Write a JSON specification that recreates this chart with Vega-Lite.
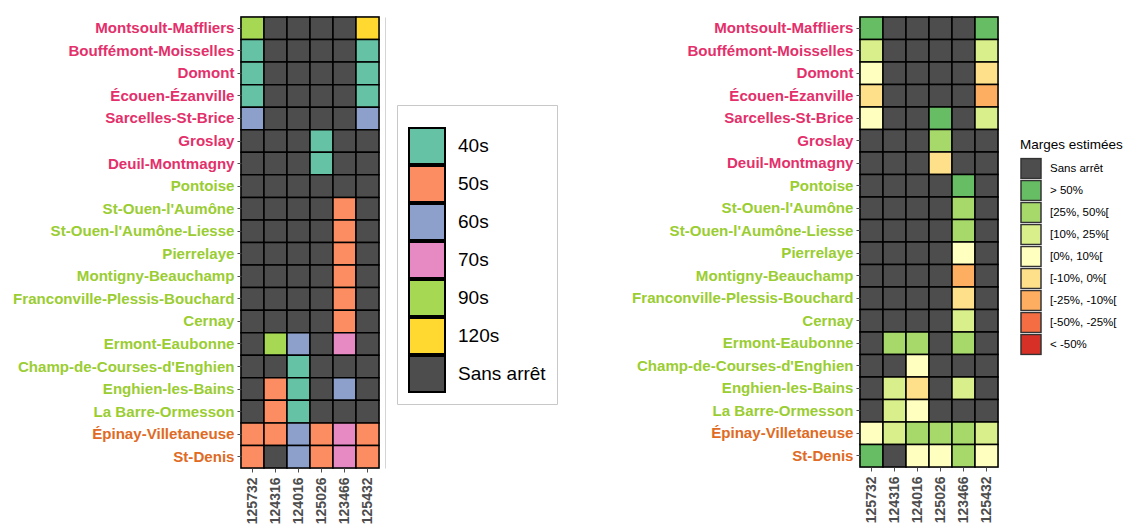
{
  "$schema": "https://vega.github.io/schema/vega-lite/v6.json",
  "padding": {"left": 11, "top": 15, "right": 0, "bottom": 0},
  "background": "white",
  "config": {
    "font": "Liberation Sans",
    "view": {"stroke": "#a0a0a0", "strokeWidth": 1.5},
    "axis": {"grid": false, "domain": false, "tickColor": "#4D4D4D", "tickSize": 4, "labelFontWeight": "bold", "labelLimit": 400}
  },
  "data": {"values": [
    {"station": "Montsoult-Maffliers", "train": "125732", "arret": "90s", "marge": "> 50%"},
    {"station": "Montsoult-Maffliers", "train": "124316", "arret": "Sans arrêt", "marge": "Sans arrêt"},
    {"station": "Montsoult-Maffliers", "train": "124016", "arret": "Sans arrêt", "marge": "Sans arrêt"},
    {"station": "Montsoult-Maffliers", "train": "125026", "arret": "Sans arrêt", "marge": "Sans arrêt"},
    {"station": "Montsoult-Maffliers", "train": "123466", "arret": "Sans arrêt", "marge": "Sans arrêt"},
    {"station": "Montsoult-Maffliers", "train": "125432", "arret": "120s", "marge": "> 50%"},
    {"station": "Bouffémont-Moisselles", "train": "125732", "arret": "40s", "marge": "[10%, 25%["},
    {"station": "Bouffémont-Moisselles", "train": "124316", "arret": "Sans arrêt", "marge": "Sans arrêt"},
    {"station": "Bouffémont-Moisselles", "train": "124016", "arret": "Sans arrêt", "marge": "Sans arrêt"},
    {"station": "Bouffémont-Moisselles", "train": "125026", "arret": "Sans arrêt", "marge": "Sans arrêt"},
    {"station": "Bouffémont-Moisselles", "train": "123466", "arret": "Sans arrêt", "marge": "Sans arrêt"},
    {"station": "Bouffémont-Moisselles", "train": "125432", "arret": "40s", "marge": "[10%, 25%["},
    {"station": "Domont", "train": "125732", "arret": "40s", "marge": "[0%, 10%["},
    {"station": "Domont", "train": "124316", "arret": "Sans arrêt", "marge": "Sans arrêt"},
    {"station": "Domont", "train": "124016", "arret": "Sans arrêt", "marge": "Sans arrêt"},
    {"station": "Domont", "train": "125026", "arret": "Sans arrêt", "marge": "Sans arrêt"},
    {"station": "Domont", "train": "123466", "arret": "Sans arrêt", "marge": "Sans arrêt"},
    {"station": "Domont", "train": "125432", "arret": "40s", "marge": "[-10%, 0%["},
    {"station": "Écouen-Ézanville", "train": "125732", "arret": "40s", "marge": "[-10%, 0%["},
    {"station": "Écouen-Ézanville", "train": "124316", "arret": "Sans arrêt", "marge": "Sans arrêt"},
    {"station": "Écouen-Ézanville", "train": "124016", "arret": "Sans arrêt", "marge": "Sans arrêt"},
    {"station": "Écouen-Ézanville", "train": "125026", "arret": "Sans arrêt", "marge": "Sans arrêt"},
    {"station": "Écouen-Ézanville", "train": "123466", "arret": "Sans arrêt", "marge": "Sans arrêt"},
    {"station": "Écouen-Ézanville", "train": "125432", "arret": "40s", "marge": "[-25%, -10%["},
    {"station": "Sarcelles-St-Brice", "train": "125732", "arret": "60s", "marge": "[0%, 10%["},
    {"station": "Sarcelles-St-Brice", "train": "124316", "arret": "Sans arrêt", "marge": "Sans arrêt"},
    {"station": "Sarcelles-St-Brice", "train": "124016", "arret": "Sans arrêt", "marge": "Sans arrêt"},
    {"station": "Sarcelles-St-Brice", "train": "125026", "arret": "Sans arrêt", "marge": "> 50%"},
    {"station": "Sarcelles-St-Brice", "train": "123466", "arret": "Sans arrêt", "marge": "Sans arrêt"},
    {"station": "Sarcelles-St-Brice", "train": "125432", "arret": "60s", "marge": "[10%, 25%["},
    {"station": "Groslay", "train": "125732", "arret": "Sans arrêt", "marge": "Sans arrêt"},
    {"station": "Groslay", "train": "124316", "arret": "Sans arrêt", "marge": "Sans arrêt"},
    {"station": "Groslay", "train": "124016", "arret": "Sans arrêt", "marge": "Sans arrêt"},
    {"station": "Groslay", "train": "125026", "arret": "40s", "marge": "[25%, 50%["},
    {"station": "Groslay", "train": "123466", "arret": "Sans arrêt", "marge": "Sans arrêt"},
    {"station": "Groslay", "train": "125432", "arret": "Sans arrêt", "marge": "Sans arrêt"},
    {"station": "Deuil-Montmagny", "train": "125732", "arret": "Sans arrêt", "marge": "Sans arrêt"},
    {"station": "Deuil-Montmagny", "train": "124316", "arret": "Sans arrêt", "marge": "Sans arrêt"},
    {"station": "Deuil-Montmagny", "train": "124016", "arret": "Sans arrêt", "marge": "Sans arrêt"},
    {"station": "Deuil-Montmagny", "train": "125026", "arret": "40s", "marge": "[-10%, 0%["},
    {"station": "Deuil-Montmagny", "train": "123466", "arret": "Sans arrêt", "marge": "Sans arrêt"},
    {"station": "Deuil-Montmagny", "train": "125432", "arret": "Sans arrêt", "marge": "Sans arrêt"},
    {"station": "Pontoise", "train": "125732", "arret": "Sans arrêt", "marge": "Sans arrêt"},
    {"station": "Pontoise", "train": "124316", "arret": "Sans arrêt", "marge": "Sans arrêt"},
    {"station": "Pontoise", "train": "124016", "arret": "Sans arrêt", "marge": "Sans arrêt"},
    {"station": "Pontoise", "train": "125026", "arret": "Sans arrêt", "marge": "Sans arrêt"},
    {"station": "Pontoise", "train": "123466", "arret": "Sans arrêt", "marge": "> 50%"},
    {"station": "Pontoise", "train": "125432", "arret": "Sans arrêt", "marge": "Sans arrêt"},
    {"station": "St-Ouen-l'Aumône", "train": "125732", "arret": "Sans arrêt", "marge": "Sans arrêt"},
    {"station": "St-Ouen-l'Aumône", "train": "124316", "arret": "Sans arrêt", "marge": "Sans arrêt"},
    {"station": "St-Ouen-l'Aumône", "train": "124016", "arret": "Sans arrêt", "marge": "Sans arrêt"},
    {"station": "St-Ouen-l'Aumône", "train": "125026", "arret": "Sans arrêt", "marge": "Sans arrêt"},
    {"station": "St-Ouen-l'Aumône", "train": "123466", "arret": "50s", "marge": "[25%, 50%["},
    {"station": "St-Ouen-l'Aumône", "train": "125432", "arret": "Sans arrêt", "marge": "Sans arrêt"},
    {"station": "St-Ouen-l'Aumône-Liesse", "train": "125732", "arret": "Sans arrêt", "marge": "Sans arrêt"},
    {"station": "St-Ouen-l'Aumône-Liesse", "train": "124316", "arret": "Sans arrêt", "marge": "Sans arrêt"},
    {"station": "St-Ouen-l'Aumône-Liesse", "train": "124016", "arret": "Sans arrêt", "marge": "Sans arrêt"},
    {"station": "St-Ouen-l'Aumône-Liesse", "train": "125026", "arret": "Sans arrêt", "marge": "Sans arrêt"},
    {"station": "St-Ouen-l'Aumône-Liesse", "train": "123466", "arret": "50s", "marge": "[25%, 50%["},
    {"station": "St-Ouen-l'Aumône-Liesse", "train": "125432", "arret": "Sans arrêt", "marge": "Sans arrêt"},
    {"station": "Pierrelaye", "train": "125732", "arret": "Sans arrêt", "marge": "Sans arrêt"},
    {"station": "Pierrelaye", "train": "124316", "arret": "Sans arrêt", "marge": "Sans arrêt"},
    {"station": "Pierrelaye", "train": "124016", "arret": "Sans arrêt", "marge": "Sans arrêt"},
    {"station": "Pierrelaye", "train": "125026", "arret": "Sans arrêt", "marge": "Sans arrêt"},
    {"station": "Pierrelaye", "train": "123466", "arret": "50s", "marge": "[0%, 10%["},
    {"station": "Pierrelaye", "train": "125432", "arret": "Sans arrêt", "marge": "Sans arrêt"},
    {"station": "Montigny-Beauchamp", "train": "125732", "arret": "Sans arrêt", "marge": "Sans arrêt"},
    {"station": "Montigny-Beauchamp", "train": "124316", "arret": "Sans arrêt", "marge": "Sans arrêt"},
    {"station": "Montigny-Beauchamp", "train": "124016", "arret": "Sans arrêt", "marge": "Sans arrêt"},
    {"station": "Montigny-Beauchamp", "train": "125026", "arret": "Sans arrêt", "marge": "Sans arrêt"},
    {"station": "Montigny-Beauchamp", "train": "123466", "arret": "50s", "marge": "[-25%, -10%["},
    {"station": "Montigny-Beauchamp", "train": "125432", "arret": "Sans arrêt", "marge": "Sans arrêt"},
    {"station": "Franconville-Plessis-Bouchard", "train": "125732", "arret": "Sans arrêt", "marge": "Sans arrêt"},
    {"station": "Franconville-Plessis-Bouchard", "train": "124316", "arret": "Sans arrêt", "marge": "Sans arrêt"},
    {"station": "Franconville-Plessis-Bouchard", "train": "124016", "arret": "Sans arrêt", "marge": "Sans arrêt"},
    {"station": "Franconville-Plessis-Bouchard", "train": "125026", "arret": "Sans arrêt", "marge": "Sans arrêt"},
    {"station": "Franconville-Plessis-Bouchard", "train": "123466", "arret": "50s", "marge": "[-10%, 0%["},
    {"station": "Franconville-Plessis-Bouchard", "train": "125432", "arret": "Sans arrêt", "marge": "Sans arrêt"},
    {"station": "Cernay", "train": "125732", "arret": "Sans arrêt", "marge": "Sans arrêt"},
    {"station": "Cernay", "train": "124316", "arret": "Sans arrêt", "marge": "Sans arrêt"},
    {"station": "Cernay", "train": "124016", "arret": "Sans arrêt", "marge": "Sans arrêt"},
    {"station": "Cernay", "train": "125026", "arret": "Sans arrêt", "marge": "Sans arrêt"},
    {"station": "Cernay", "train": "123466", "arret": "50s", "marge": "[10%, 25%["},
    {"station": "Cernay", "train": "125432", "arret": "Sans arrêt", "marge": "Sans arrêt"},
    {"station": "Ermont-Eaubonne", "train": "125732", "arret": "Sans arrêt", "marge": "Sans arrêt"},
    {"station": "Ermont-Eaubonne", "train": "124316", "arret": "90s", "marge": "[25%, 50%["},
    {"station": "Ermont-Eaubonne", "train": "124016", "arret": "60s", "marge": "[25%, 50%["},
    {"station": "Ermont-Eaubonne", "train": "125026", "arret": "Sans arrêt", "marge": "Sans arrêt"},
    {"station": "Ermont-Eaubonne", "train": "123466", "arret": "70s", "marge": "[25%, 50%["},
    {"station": "Ermont-Eaubonne", "train": "125432", "arret": "Sans arrêt", "marge": "Sans arrêt"},
    {"station": "Champ-de-Courses-d'Enghien", "train": "125732", "arret": "Sans arrêt", "marge": "Sans arrêt"},
    {"station": "Champ-de-Courses-d'Enghien", "train": "124316", "arret": "Sans arrêt", "marge": "Sans arrêt"},
    {"station": "Champ-de-Courses-d'Enghien", "train": "124016", "arret": "40s", "marge": "[0%, 10%["},
    {"station": "Champ-de-Courses-d'Enghien", "train": "125026", "arret": "Sans arrêt", "marge": "Sans arrêt"},
    {"station": "Champ-de-Courses-d'Enghien", "train": "123466", "arret": "Sans arrêt", "marge": "Sans arrêt"},
    {"station": "Champ-de-Courses-d'Enghien", "train": "125432", "arret": "Sans arrêt", "marge": "Sans arrêt"},
    {"station": "Enghien-les-Bains", "train": "125732", "arret": "Sans arrêt", "marge": "Sans arrêt"},
    {"station": "Enghien-les-Bains", "train": "124316", "arret": "50s", "marge": "[10%, 25%["},
    {"station": "Enghien-les-Bains", "train": "124016", "arret": "40s", "marge": "[-10%, 0%["},
    {"station": "Enghien-les-Bains", "train": "125026", "arret": "Sans arrêt", "marge": "Sans arrêt"},
    {"station": "Enghien-les-Bains", "train": "123466", "arret": "60s", "marge": "[10%, 25%["},
    {"station": "Enghien-les-Bains", "train": "125432", "arret": "Sans arrêt", "marge": "Sans arrêt"},
    {"station": "La Barre-Ormesson", "train": "125732", "arret": "Sans arrêt", "marge": "Sans arrêt"},
    {"station": "La Barre-Ormesson", "train": "124316", "arret": "50s", "marge": "[10%, 25%["},
    {"station": "La Barre-Ormesson", "train": "124016", "arret": "40s", "marge": "[0%, 10%["},
    {"station": "La Barre-Ormesson", "train": "125026", "arret": "Sans arrêt", "marge": "Sans arrêt"},
    {"station": "La Barre-Ormesson", "train": "123466", "arret": "Sans arrêt", "marge": "Sans arrêt"},
    {"station": "La Barre-Ormesson", "train": "125432", "arret": "Sans arrêt", "marge": "Sans arrêt"},
    {"station": "Épinay-Villetaneuse", "train": "125732", "arret": "50s", "marge": "[0%, 10%["},
    {"station": "Épinay-Villetaneuse", "train": "124316", "arret": "50s", "marge": "[10%, 25%["},
    {"station": "Épinay-Villetaneuse", "train": "124016", "arret": "60s", "marge": "[25%, 50%["},
    {"station": "Épinay-Villetaneuse", "train": "125026", "arret": "50s", "marge": "[25%, 50%["},
    {"station": "Épinay-Villetaneuse", "train": "123466", "arret": "70s", "marge": "[25%, 50%["},
    {"station": "Épinay-Villetaneuse", "train": "125432", "arret": "50s", "marge": "[10%, 25%["},
    {"station": "St-Denis", "train": "125732", "arret": "50s", "marge": "> 50%"},
    {"station": "St-Denis", "train": "124316", "arret": "Sans arrêt", "marge": "Sans arrêt"},
    {"station": "St-Denis", "train": "124016", "arret": "60s", "marge": "[0%, 10%["},
    {"station": "St-Denis", "train": "125026", "arret": "50s", "marge": "[0%, 10%["},
    {"station": "St-Denis", "train": "123466", "arret": "70s", "marge": "[25%, 50%["},
    {"station": "St-Denis", "train": "125432", "arret": "50s", "marge": "[0%, 10%["}
  ]},
  "spacing": 71,
  "resolve": {"scale": {"color": "independent"}},
  "hconcat": [
    {
      "width": 138,
      "height": 451,
      "resolve": {"axis": {"y": "independent"}},
      "layer": [
        {
          "mark": {"type": "rect", "stroke": "black", "strokeWidth": 1.5},
          "encoding": {
            "x": {"field": "train", "type": "nominal", "title": null,
              "sort": ["125732", "124316", "124016", "125026", "123466", "125432"],
              "axis": {"labelAngle": 270, "labelFontSize": 14, "labelColor": "#4D4D4D", "labelPadding": 5}},
            "y": {"field": "station", "type": "nominal", "title": null,
              "sort": ["Montsoult-Maffliers", "Bouffémont-Moisselles", "Domont", "Écouen-Ézanville", "Sarcelles-St-Brice", "Groslay", "Deuil-Montmagny", "Pontoise", "St-Ouen-l'Aumône", "St-Ouen-l'Aumône-Liesse", "Pierrelaye", "Montigny-Beauchamp", "Franconville-Plessis-Bouchard", "Cernay", "Ermont-Eaubonne", "Champ-de-Courses-d'Enghien", "Enghien-les-Bains", "La Barre-Ormesson", "Épinay-Villetaneuse", "St-Denis"],
              "axis": {"labelFontSize": 15.1, "labelPadding": 3,
                "labelColor": {"expr": "indexof(['Montsoult-Maffliers','Bouffémont-Moisselles','Domont','Écouen-Ézanville','Sarcelles-St-Brice','Groslay','Deuil-Montmagny'], datum.value) >= 0 ? '#E3306B' : (indexof(['Épinay-Villetaneuse','St-Denis'], datum.value) >= 0 ? '#E06B24' : '#9ACD32')"}}},
            "color": {"field": "arret", "type": "nominal",
              "scale": {"domain": ["40s", "50s", "60s", "70s", "90s", "120s", "Sans arrêt"],
                "range": ["#66C2A5", "#FC8D62", "#8DA0CB", "#E78AC3", "#A6D854", "#FFD92F", "#4D4D4D"]},
              "legend": {"orient": "none", "legendX": 156, "legendY": 88, "title": " ", "titleFontSize": 10, "titlePadding": 1,
                "symbolType": "square", "symbolSize": 1296, "symbolStrokeColor": "black", "symbolStrokeWidth": 2, "symbolOpacity": 1,
                "clipHeight": 38,
                "labelFontSize": 19, "labelColor": "black", "labelOffset": 12, "rowPadding": 0, "padding": 11,
                "strokeColor": "#c8c8c8", "labelLimit": 300}}
          }
        },
        {
          "mark": {"type": "rect", "opacity": 0},
          "encoding": {
            "y": {"field": "station", "type": "nominal", "title": null,
              "sort": ["Montsoult-Maffliers", "Bouffémont-Moisselles", "Domont", "Écouen-Ézanville", "Sarcelles-St-Brice", "Groslay", "Deuil-Montmagny", "Pontoise", "St-Ouen-l'Aumône", "St-Ouen-l'Aumône-Liesse", "Pierrelaye", "Montigny-Beauchamp", "Franconville-Plessis-Bouchard", "Cernay", "Ermont-Eaubonne", "Champ-de-Courses-d'Enghien", "Enghien-les-Bains", "La Barre-Ormesson", "Épinay-Villetaneuse", "St-Denis"],
              "axis": {"orient": "right", "labels": false, "ticks": false, "domain": true, "domainColor": "#d4d4d4", "domainWidth": 1, "offset": 6}}
          }
        }
      ]
    },
    {
      "width": 138,
      "height": 450,
      "mark": {"type": "rect", "stroke": "black", "strokeWidth": 1.5},
      "encoding": {
        "x": {"field": "train", "type": "nominal", "title": null,
          "sort": ["125732", "124316", "124016", "125026", "123466", "125432"],
          "axis": {"labelAngle": 270, "labelFontSize": 14, "labelColor": "#4D4D4D", "labelPadding": 5}},
        "y": {"field": "station", "type": "nominal", "title": null,
          "sort": ["Montsoult-Maffliers", "Bouffémont-Moisselles", "Domont", "Écouen-Ézanville", "Sarcelles-St-Brice", "Groslay", "Deuil-Montmagny", "Pontoise", "St-Ouen-l'Aumône", "St-Ouen-l'Aumône-Liesse", "Pierrelaye", "Montigny-Beauchamp", "Franconville-Plessis-Bouchard", "Cernay", "Ermont-Eaubonne", "Champ-de-Courses-d'Enghien", "Enghien-les-Bains", "La Barre-Ormesson", "Épinay-Villetaneuse", "St-Denis"],
          "axis": {"labelFontSize": 15.1, "labelPadding": 3,
            "labelColor": {"expr": "indexof(['Montsoult-Maffliers','Bouffémont-Moisselles','Domont','Écouen-Ézanville','Sarcelles-St-Brice','Groslay','Deuil-Montmagny'], datum.value) >= 0 ? '#E3306B' : (indexof(['Épinay-Villetaneuse','St-Denis'], datum.value) >= 0 ? '#E06B24' : '#9ACD32')"}}},
        "color": {"field": "marge", "type": "nominal",
          "scale": {"domain": ["Sans arrêt", "> 50%", "[25%, 50%[", "[10%, 25%[", "[0%, 10%[", "[-10%, 0%[", "[-25%, -10%[", "[-50%, -25%[", "< -50%"],
            "range": ["#4D4D4D", "#66BD63", "#A6D96A", "#D9EF8B", "#FFFFBF", "#FEE08B", "#FDAE61", "#F46D43", "#D73027"]},
          "legend": {"orient": "none", "legendX": 160, "legendY": 121, "title": "Marges estimées", "titleFontSize": 13.5, "titleFontWeight": "normal", "titleColor": "black", "titlePadding": 6,
            "symbolType": "square", "symbolSize": 400, "symbolStrokeColor": "#333333", "symbolStrokeWidth": 1.5, "symbolOpacity": 1,
            "clipHeight": 22,
            "labelFontSize": 11.5, "labelColor": "black", "labelOffset": 8, "rowPadding": 0, "padding": 0, "labelLimit": 300}}
      }
    }
  ]
}
